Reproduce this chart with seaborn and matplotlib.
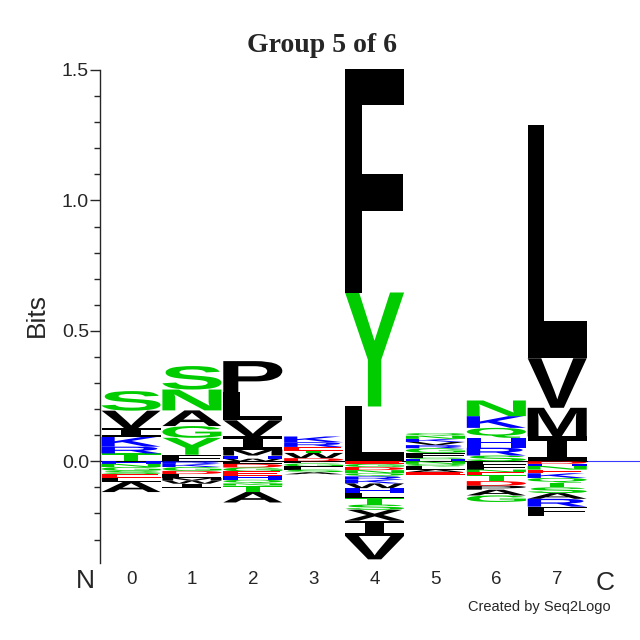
import numpy as np
import matplotlib
matplotlib.use("Agg")
import matplotlib.pyplot as plt
import seaborn as sns
from matplotlib.textpath import TextPath
from matplotlib.font_manager import FontProperties
from matplotlib.patches import PathPatch
from matplotlib.transforms import Affine2D

# positions of the logo
positions = [0, 1, 2, 3, 4, 5, 6, 7]

# letters above zero, bottom -> top, with heights in bits
pos_letters = ["TRKIVS", "FYGANS", "WHMIVLP", "DWTERK", "LYF",
               "HSFGRVKNQ", "SRHQKN", "IMVL"]
pos_heights = [
    [0.03, 0.026, 0.038, 0.032, 0.068, 0.075],
    [0.025, 0.065, 0.045, 0.06, 0.08, 0.09],
    [0.01, 0.012, 0.023, 0.05, 0.062, 0.107, 0.12],
    [0.012, 0.02, 0.008, 0.015, 0.018, 0.022],
    [0.21, 0.437, 0.856],
    [0.008, 0.006, 0.018, 0.018, 0.012, 0.012, 0.012, 0.012, 0.01],
    [0.022, 0.03, 0.038, 0.038, 0.045, 0.06],
    [0.095, 0.11, 0.19, 0.893],
]

# letters below zero, top -> bottom, with heights in bits
neg_letters = ["HNGSELA", "RKGDLMWI", "LDGEHQNTA", "LGFSA",
               "EGDNQRKWHLTSXIV", "NQLAE", "LFNETDPAG", "DHNEKQTSARF"]
neg_heights = [
    [0.01, 0.012, 0.015, 0.012, 0.014, 0.015, 0.04],
    [0.01, 0.012, 0.015, 0.012, 0.015, 0.01, 0.012, 0.015],
    [0.01, 0.014, 0.015, 0.016, 0.016, 0.014, 0.008, 0.025, 0.04],
    [0.008, 0.012, 0.012, 0.01, 0.008],
    [0.01, 0.012, 0.012, 0.012, 0.012, 0.012, 0.015, 0.018, 0.018, 0.02,
     0.025, 0.02, 0.042, 0.058, 0.09],
    [0.01, 0.01, 0.012, 0.01, 0.01],
    [0.012, 0.02, 0.01, 0.012, 0.022, 0.018, 0.015, 0.022, 0.025],
    [0.01, 0.008, 0.014, 0.014, 0.018, 0.018, 0.018, 0.022, 0.022, 0.03, 0.035],
]

colors = {}
for c in "ACFILMPVWX":
    colors[c] = "black"
for c in "GNQSTY":
    colors[c] = "#00CC00"
for c in "HKR":
    colors[c] = "#0000FF"
for c in "DE":
    colors[c] = "#FF0000"

sns.set_style("ticks")
plt.rcParams['font.family'] = ['Liberation Sans', 'DejaVu Sans']

fp = FontProperties(family="Liberation Sans", weight="bold")
fp_i = FontProperties(family="DejaVu Sans Mono", weight="bold")


def draw_letter(ax, ch, x0, y0, w, h, color):
    tp = TextPath((0, 0), ch, size=1, prop=fp_i if ch == "I" else fp)
    bb = tp.get_extents()
    t = Affine2D().translate(-bb.x0, -bb.y0).scale(w / bb.width, h / bb.height).translate(x0, y0)
    ax.add_patch(PathPatch(t.transform_path(tp), fc=color, ec="none", lw=0, clip_on=False))


fig = plt.figure(figsize=(6.4, 6.4), dpi=100)
ax = fig.add_axes([100 / 640, 1 - 563 / 640, 540 / 640, 493 / 640])

w = 0.97
for i, p in enumerate(positions):
    y = 0.0
    for ch, h in zip(pos_letters[i], pos_heights[i]):
        draw_letter(ax, ch, p - w / 2, y, w, h, colors[ch])
        y += h
    y = 0.0
    for ch, h in zip(neg_letters[i], neg_heights[i]):
        y -= h
        draw_letter(ax, ch, p - w / 2, y, w, h, colors[ch])

ax.set_xlim(-0.51, 8.36)
ax.set_ylim(-0.39, 1.5)
ax.plot([-0.51, 7.5], [0, 0], color="black", lw=0.8, zorder=0)
ax.plot([7.5, 8.36], [0, 0], color="#3a3aff", lw=0.8, zorder=0)

sns.despine(ax=ax, bottom=True)
ax.spines["left"].set_linewidth(1.0)
ax.set_yticks([0, 0.5, 1.0, 1.5])
ax.set_yticklabels(["0.0", "0.5", "1.0", "1.5"])
ax.set_yticks(np.round(np.arange(-0.3, 1.5, 0.1), 2), minor=True)
ax.tick_params(axis="y", which="major", length=7, width=1, pad=1, labelsize=14)
ax.tick_params(axis="y", which="minor", length=4, width=1)
ax.set_xticks(positions)
ax.set_xticklabels([str(p) for p in positions])
ax.tick_params(axis="x", length=0, pad=6, labelsize=13.5)

fig.text(37 / 640, 1 - 315 / 640, "Bits", rotation=90, ha="center", va="center", fontsize=19)
fig.text(85 / 640, 1 - 581 / 640, "N", ha="center", va="center", fontsize=19)
fig.text(605 / 640, 1 - 583 / 640, "C", ha="center", va="center", fontsize=19)
fig.text(322 / 640, 1 - 45 / 640, "Group 5 of 6", ha="center", va="center",
         fontsize=20, fontweight="bold", family="Liberation Serif")
fig.text(539 / 640, 1 - 607 / 640, "Created by Seq2Logo", ha="center", va="center", fontsize=10.5)

fig.savefig("out.png", dpi=100)
